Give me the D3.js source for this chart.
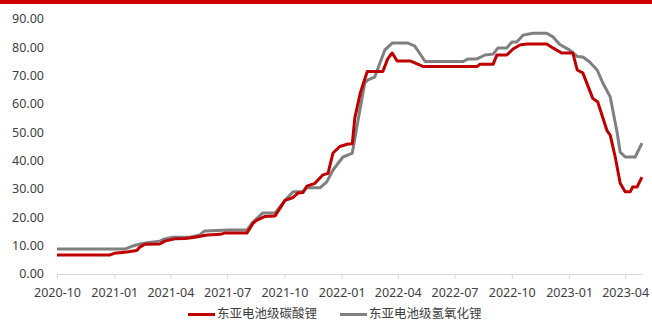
<!DOCTYPE html>
<html>
<head>
<meta charset="utf-8">
<script src="https://cdn.jsdelivr.net/npm/d3@7/dist/d3.min.js"></script>
<style>
  html, body { margin: 0; padding: 0; background: #fff; }
  svg { display: block; font-family: "Noto Sans", "Noto Sans CJK SC", sans-serif; }
</style>
</head>
<body>
<svg id="chart" width="652" height="321"></svg>
<script>
// East Asia battery-grade lithium prices (USD/kg)
const carbonateDates = [
  "2020-10-01","2020-12-25","2021-01-01","2021-01-21","2021-02-06","2021-02-11","2021-02-19",
  "2021-03-15","2021-03-23","2021-04-08","2021-04-25","2021-05-10","2021-05-30","2021-06-20",
  "2021-06-28","2021-08-02","2021-08-12","2021-08-18","2021-08-31","2021-09-16","2021-10-02",
  "2021-10-15","2021-10-23","2021-10-31","2021-11-06","2021-11-19","2021-12-02","2021-12-10",
  "2021-12-18","2021-12-29","2022-01-11","2022-01-18","2022-01-22","2022-01-31","2022-02-11",
  "2022-03-08","2022-03-16","2022-03-23","2022-03-31","2022-04-21","2022-05-12","2022-08-06",
  "2022-08-11","2022-09-01","2022-09-07","2022-09-23","2022-10-03","2022-10-14","2022-10-25",
  "2022-11-26","2022-12-06","2022-12-20","2023-01-07","2023-01-14","2023-01-23","2023-02-08",
  "2023-02-16","2023-03-03","2023-03-08","2023-03-16","2023-03-24","2023-04-01","2023-04-09",
  "2023-04-13","2023-04-20","2023-04-28"
];
const carbonateValues = [
  6.75, 6.75, 7.3, 7.8, 8.3, 9.5, 10.5,
  10.6, 11.6, 12.4, 12.5, 13.0, 13.8, 14.0,
  14.5, 14.5, 18.0, 19.0, 20.3, 20.5, 26.0,
  27.0, 28.6, 28.8, 31.0, 32.0, 35.0, 35.5,
  42.7, 45.0, 45.9, 46.0, 55.0, 64.0, 71.5,
  71.5, 76.0, 78.0, 75.2, 75.2, 73.2, 73.2,
  74.0, 74.0, 77.3, 77.3, 79.4, 80.8, 81.2,
  81.2, 79.8, 78.0, 78.0, 72.0, 71.0, 62.0,
  60.7, 50.5, 49.0, 41.3, 32.0, 29.0, 29.0,
  30.7, 30.7, 34.2
];

const hydroxideDates = [
  "2020-10-01","2021-01-18","2021-01-31","2021-02-11","2021-02-22","2021-03-15","2021-03-23",
  "2021-04-05","2021-05-02","2021-05-18","2021-05-26","2021-07-05","2021-08-02","2021-08-10",
  "2021-08-27","2021-09-16","2021-10-02","2021-10-15","2021-10-29","2021-11-06","2021-11-27",
  "2021-12-08","2021-12-18","2022-01-03","2022-01-11","2022-01-18","2022-01-27","2022-02-07",
  "2022-02-12","2022-02-23","2022-03-11","2022-03-23","2022-04-17","2022-04-28","2022-05-15",
  "2022-07-15","2022-07-23","2022-08-06","2022-08-19","2022-09-01","2022-09-09","2022-09-23",
  "2022-10-01","2022-10-09","2022-10-19","2022-11-04","2022-11-26","2022-12-06","2022-12-17",
  "2023-01-02","2023-01-14","2023-01-23","2023-02-03","2023-02-15","2023-02-24","2023-03-08",
  "2023-03-19","2023-03-24","2023-04-01","2023-04-17","2023-04-28"
];
const hydroxideValues = [
  8.8, 8.8, 9.9, 10.6, 11.0, 11.6, 12.4,
  13.0, 13.0, 13.8, 15.2, 15.5, 15.5, 18.0,
  21.5, 21.5, 26.0, 29.0, 29.0, 30.4, 30.4,
  32.5, 36.7, 41.3, 42.0, 42.7, 54.0, 67.4,
  68.5, 69.5, 79.0, 81.5, 81.5, 80.5, 75.0,
  75.0, 75.9, 75.9, 77.3, 77.6, 79.8, 79.8,
  81.9, 81.9, 84.3, 85.0, 85.0, 83.7, 81.0,
  79.0, 76.8, 76.6, 74.8, 72.0, 67.5, 62.5,
  50.0, 43.0, 41.3, 41.3, 46.2
];

const seriesNames = ["东亚电池级碳酸锂", "东亚电池级氢氧化锂"];
const seriesColors = ["#c00000", "#808080"];
const yTicks = [0, 10, 20, 30, 40, 50, 60, 70, 80, 90];
const xTickLabels = ["2020-10","2021-01","2021-04","2021-07","2021-10","2022-01","2022-04","2022-07","2022-10","2023-01","2023-04"];

const parse = d3.timeParse("%Y-%m-%d");
const parseMonth = d3.timeParse("%Y-%m");
const series = [
  carbonateDates.map((d, i) => ({ date: parse(d), value: carbonateValues[i] })),
  hydroxideDates.map((d, i) => ({ date: parse(d), value: hydroxideValues[i] }))
];

const svg = d3.select("#chart");

// thin red banner along the top edge
svg.append("rect").attr("x", 0).attr("y", 0).attr("width", 652).attr("height", 4).attr("fill", "#cc0000");

const x = d3.scaleTime()
  .domain([parse("2020-10-01"), parse("2023-04-28")])
  .range([57, 642]);
const y = d3.scaleLinear().domain([0, 90]).range([274, 19]);

// y axis labels only (no line, no grid)
svg.append("g")
  .selectAll("text")
  .data(yTicks)
  .join("text")
  .attr("x", 44)
  .attr("y", d => y(d))
  .attr("dy", "0.35em")
  .attr("text-anchor", "end")
  .attr("font-size", 12.5)
  .attr("fill", "#404040")
  .text(d => d3.format(".2f")(d));

// x axis
const xAxis = d3.axisBottom(x)
  .tickValues(xTickLabels.map(parseMonth))
  .tickFormat(d3.timeFormat("%Y-%m"))
  .tickSize(5)
  .tickSizeOuter(0);
const gx = svg.append("g").attr("transform", "translate(0,274)").call(xAxis);
gx.select(".domain").attr("stroke", "#d9d9d9").attr("stroke-width", 1);
gx.selectAll(".tick line").attr("stroke", "#d9d9d9");
gx.selectAll(".tick text")
  .attr("font-size", 12.5)
  .attr("font-family", "'Noto Sans', sans-serif")
  .attr("fill", "#404040")
  .attr("y", 14)
  .attr("dy", "0.71em");

// price lines
const line = d3.line().x(d => x(d.date)).y(d => y(d.value)).curve(d3.curveLinear);
// draw hydroxide first, carbonate on top
[1, 0].forEach(i => {
  svg.append("path")
    .datum(series[i])
    .attr("fill", "none")
    .attr("stroke", seriesColors[i])
    .attr("stroke-width", 3)
    .attr("stroke-linejoin", "round")
    .attr("d", line);
});

// legend
const legendX = [188, 340];
const lg = svg.append("g");
seriesNames.forEach((name, i) => {
  lg.append("line")
    .attr("x1", legendX[i]).attr("x2", legendX[i] + 27)
    .attr("y1", 314.5).attr("y2", 314.5)
    .attr("stroke", seriesColors[i]).attr("stroke-width", 3);
  lg.append("text")
    .attr("x", legendX[i] + 29)
    .attr("y", 314)
    .attr("dy", "0.35em")
    .attr("font-size", 12.5)
    .attr("font-family", "'Noto Sans CJK SC', sans-serif")
    .attr("fill", "#404040")
    .text(name);
});
</script>
</body>
</html>
